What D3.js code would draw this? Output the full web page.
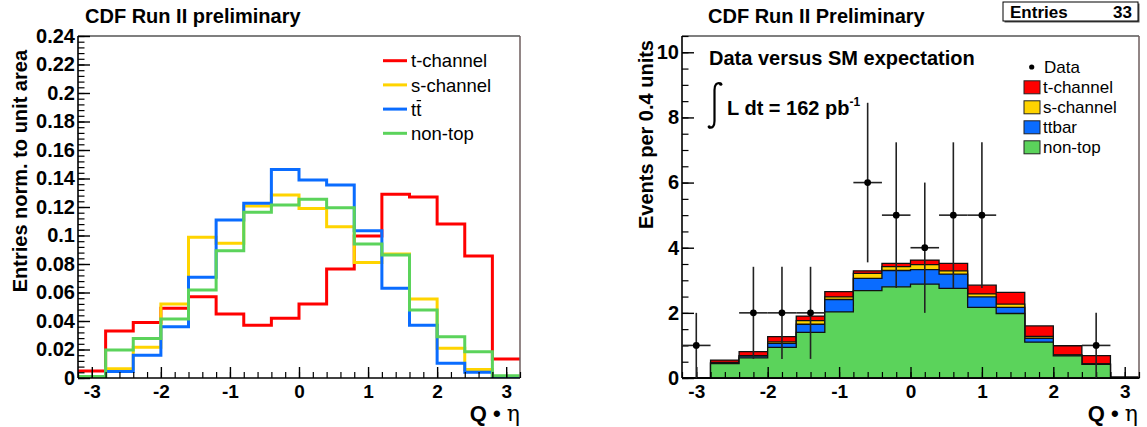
<!DOCTYPE html>
<html>
<head>
<meta charset="utf-8">
<script src="https://cdn.jsdelivr.net/npm/d3@7"></script>
<style>
  body { margin: 0; background: #fff; }
  svg { display: block; }
  text { font-family: "Liberation Sans", Arial, Helvetica, sans-serif; }
</style>
</head>
<body>
<div id="chart"></div>
<script>
// bin edges of Q*eta (width 0.4)
const binEdges = [-3.2, -2.8, -2.4, -2.0, -1.6, -1.2, -0.8, -0.4, 0, 0.4, 0.8, 1.2, 1.6, 2.0, 2.4, 2.8, 3.2]
const binCenters = [-3.0, -2.6, -2.2, -1.8, -1.4, -1.0, -0.6, -0.2, 0.2, 0.6, 1.0, 1.4, 1.8, 2.2, 2.6, 3.0]

// left: shapes normalised to unit area
const tchanNorm  = [0.005, 0.033, 0.039, 0.049, 0.057, 0.045, 0.037, 0.042, 0.052, 0.0765, 0.0996, 0.129, 0.127, 0.108, 0.0856, 0.0133]
const schanNorm  = [0.001, 0.0065, 0.0215, 0.052, 0.0987, 0.0945, 0.1207, 0.1284, 0.119, 0.1062, 0.081, 0.087, 0.0554, 0.0208, 0.006, 0.0005]
const ttbarNorm  = [0.0005, 0.0045, 0.016, 0.036, 0.0707, 0.1109, 0.1226, 0.1464, 0.139, 0.1354, 0.1034, 0.063, 0.037, 0.0103, 0.004, 0.0003]
const nontopNorm = [0.001, 0.0196, 0.0278, 0.0414, 0.0617, 0.0893, 0.1163, 0.1214, 0.1254, 0.1195, 0.094, 0.0863, 0.0477, 0.029, 0.0185, 0.0016]

// right: expected events per bin (stacked) and data
const nontopEv = [0, 0.44, 0.62, 0.94, 1.40, 2.03, 2.68, 2.80, 2.88, 2.75, 2.17, 1.98, 1.10, 0.68, 0.42, 0]
const ttbarEv  = [0, 0.03, 0.05, 0.12, 0.25, 0.38, 0.38, 0.50, 0.45, 0.44, 0.32, 0.19, 0.12, 0.02, 0.01, 0]
const schanEv  = [0, 0.01, 0.02, 0.05, 0.11, 0.08, 0.15, 0.12, 0.15, 0.10, 0.09, 0.10, 0.06, 0.01, 0.005, 0]
const tchanEv  = [0, 0.07, 0.12, 0.16, 0.14, 0.16, 0.08, 0.10, 0.14, 0.23, 0.27, 0.36, 0.32, 0.28, 0.25, 0.03]
const dataEv   = [1, 0, 2, 2, 2, 0, 6, 5, 4, 5, 5, 0, 0, 0, 1, 0]

const xTicks = [-3, -2, -1, 0, 1, 2, 3]
const xTickLabels = ['-3', '-2', '-1', '0', '1', '2', '3']
const yTicksLeft = [0, 0.02, 0.04, 0.06, 0.08, 0.1, 0.12, 0.14, 0.16, 0.18, 0.2, 0.22, 0.24]
const yTickLabelsLeft = ['0', '0.02', '0.04', '0.06', '0.08', '0.1', '0.12', '0.14', '0.16', '0.18', '0.2', '0.22', '0.24']
const yTicksRight = [0, 2, 4, 6, 8, 10]
const yTickLabelsRight = ['0', '2', '4', '6', '8', '10']

const legendLeft = ['t-channel', 's-channel', 'tt', 'non-top']
const legendRight = ['t-channel', 's-channel', 'ttbar', 'non-top']

const cRed = '#ff0000', cYellow = '#ffd400', cBlue = '#0a6cff', cGreen = '#5bd35b'

let svg = d3.select('#chart').append('svg')
  .attr('width', 1147)
  .attr('height', 427)
  .style('background', '#fff')

function drawFrame(x, y, minorX, minorY, yTicks, yLabels) {
  let x0 = x.range()[0], x1 = x.range()[1]
  let y0 = y.range()[0], y1 = y.range()[1]
  // top and right border
  svg.append('line').attr('x1', x0).attr('x2', x1).attr('y1', y1).attr('y2', y1)
    .attr('stroke', '#000').attr('stroke-width', 1.2)
  svg.append('line').attr('x1', x1).attr('x2', x1).attr('y1', y1).attr('y2', y0)
    .attr('stroke', '#6e5e5e').attr('stroke-width', 1.5)

  // minor ticks
  svg.append('g').attr('transform', `translate(0,${y0})`)
    .call(d3.axisBottom(x).tickValues(minorX).tickSize(-6).tickFormat(''))
    .call(g => g.select('.domain').remove())
    .selectAll('line').attr('stroke-width', 1.2)
  svg.append('g').attr('transform', `translate(${x0},0)`)
    .call(d3.axisLeft(y).tickValues(minorY).tickSize(-6.5).tickFormat(''))
    .call(g => g.select('.domain').remove())
    .selectAll('line').attr('stroke-width', 1.2)

  // major ticks + labels
  let gx = svg.append('g').attr('transform', `translate(0,${y0})`)
    .call(d3.axisBottom(x).tickValues(xTicks).tickSize(-11).tickPadding(7)
      .tickFormat((d, i) => xTickLabels[i]))
  gx.select('.domain').remove()
  gx.selectAll('line').attr('stroke-width', 1.4)
  gx.selectAll('text').attr('font-size', 19).attr('font-weight', 'bold')
    .attr('font-family', '"Liberation Sans", Arial, sans-serif').attr('fill', '#000')

  let gy = svg.append('g').attr('transform', `translate(${x0},0)`)
    .call(d3.axisLeft(y).tickValues(yTicks).tickSize(-12).tickPadding(3)
      .tickFormat((d, i) => yLabels[i]))
  gy.select('.domain').remove()
  gy.selectAll('line').attr('stroke-width', 1.4)
  gy.selectAll('text').attr('font-size', 20).attr('font-weight', 'bold')
    .attr('font-family', '"Liberation Sans", Arial, sans-serif').attr('fill', '#000')

  // axis lines
  svg.append('line').attr('x1', x0).attr('x2', x1).attr('y1', y0).attr('y2', y0)
    .attr('stroke', '#000').attr('stroke-width', 1.6)
  svg.append('line').attr('x1', x0).attr('x2', x0).attr('y1', y1).attr('y2', y0)
    .attr('stroke', '#000').attr('stroke-width', 1.6)
}

function xTitle(xRight) {
  let t = svg.append('text').attr('x', xRight).attr('y', 421).attr('text-anchor', 'end')
    .attr('font-size', 22).attr('font-weight', 'bold')
  t.append('tspan').text('Q \u2022 ')
  t.append('tspan').attr('font-weight', 'normal').attr('font-family', '"DejaVu Serif", serif').text('\u03b7')
}

// ---------------- left panel ----------------
let xL = d3.scaleLinear().domain([-3.2, 3.2]).range([78, 520])
let yL = d3.scaleLinear().domain([0, 0.24]).range([378, 36])

svg.append('text').attr('x', 85).attr('y', 23).attr('font-size', 20).attr('font-weight', 'bold')
  .text('CDF Run II preliminary')

let minorXL = d3.range(-3.2, 3.201, 0.2)
let minorYL = d3.range(0, 0.2401, 0.004)

svg.append('clipPath').attr('id', 'clipL').append('rect')
  .attr('x', 78).attr('y', 36).attr('width', 442).attr('height', 342)

let stepL = d3.line()
  .x(d => xL(d[0]))
  .y(d => yL(d[1]))
  .curve(d3.curveStepAfter)

function stepPoints(vals) {
  return binEdges.map((e, i) => [e, vals[Math.min(i, vals.length - 1)]])
}

let seriesLeft = [
  { vals: tchanNorm, color: cRed },
  { vals: schanNorm, color: cYellow },
  { vals: ttbarNorm, color: cBlue },
  { vals: nontopNorm, color: cGreen }
]

seriesLeft.forEach(s => {
  svg.append('path')
    .attr('clip-path', 'url(#clipL)')
    .attr('d', stepL(stepPoints(s.vals)))
    .attr('fill', 'none')
    .attr('stroke', s.color)
    .attr('stroke-width', 3)
})

drawFrame(xL, yL, minorXL, minorYL, yTicksLeft, yTickLabelsLeft)

svg.append('text')
  .attr('transform', 'translate(27,50) rotate(-90)')
  .attr('text-anchor', 'end').attr('font-size', 20).attr('font-weight', 'bold')
  .text('Entries norm. to unit area')

xTitle(520)

// legend left
let legRowsL = [60.7, 84.9, 109.1, 133.3]
legendLeft.forEach((name, i) => {
  svg.append('line').attr('x1', 383).attr('x2', 407).attr('y1', legRowsL[i]).attr('y2', legRowsL[i])
    .attr('stroke', seriesLeft[i].color).attr('stroke-width', 3)
  let t = svg.append('text').attr('x', 411).attr('y', legRowsL[i] + 6.6)
    .attr('font-size', 18.5).text(name)
  if (name === 'tt') {
    let n = t.node()
    let p = n.getStartPositionOfChar(1).x
    let w = n.getSubStringLength(1, 1)
    svg.append('line').attr('x1', p + 0.5).attr('x2', p + w - 0.2)
      .attr('y1', legRowsL[i] - 8.5).attr('y2', legRowsL[i] - 8.5)
      .attr('stroke', '#000').attr('stroke-width', 1.2)
  }
})

// ---------------- right panel ----------------
let xR = d3.scaleLinear().domain([-3.2, 3.2]).range([682, 1139])
let yR = d3.scaleLinear().domain([0, 10.5]).range([378, 36])

svg.append('text').attr('x', 708).attr('y', 23).attr('font-size', 20).attr('font-weight', 'bold')
  .text('CDF Run II Preliminary')

// stat box
svg.append('rect').attr('x', 1004.5).attr('y', 3.5).attr('width', 135).attr('height', 19)
  .attr('fill', '#555')
svg.append('rect').attr('x', 1003).attr('y', 2).attr('width', 135).attr('height', 19)
  .attr('fill', '#fff').attr('stroke', '#000').attr('stroke-width', 1)
svg.append('text').attr('x', 1010).attr('y', 17.5).attr('font-size', 17).attr('font-weight', 'bold')
  .text('Entries')
svg.append('text').attr('x', 1132).attr('y', 17.5).attr('text-anchor', 'end')
  .attr('font-size', 17).attr('font-weight', 'bold').text('33')

let rows = binCenters.map((c, i) => ({
  lo: binEdges[i], nontop: nontopEv[i], ttbar: ttbarEv[i], schan: schanEv[i], tchan: tchanEv[i]
}))
let stacked = d3.stack().keys(['nontop', 'ttbar', 'schan', 'tchan'])(rows)
let stackColors = [cGreen, cBlue, cYellow, cRed]

let areaR = d3.area()
  .x(d => xR(d[0]))
  .y0(yR(0))
  .y1(d => yR(d[1]))
  .curve(d3.curveStepAfter)

// draw totals first so every layer gets its own black outline
for (let k = stacked.length - 1; k >= 0; k--) {
  let pts = binEdges.map((e, i) => [e, stacked[k][Math.min(i, 15)][1]])
  svg.append('path')
    .attr('d', areaR(pts))
    .attr('fill', stackColors[k])
    .attr('stroke', '#111')
    .attr('stroke-width', 1.3)
}

let minorXR = d3.range(-3.2, 3.201, 0.2)
let minorYR = d3.range(0, 10.51, 0.5)
drawFrame(xR, yR, minorXR, minorYR, yTicksRight, yTickLabelsRight)

// data points with poisson errors
let pts = binCenters.map((c, i) => ({ x: c, n: dataEv[i] })).filter(d => d.n > 0)
let dg = svg.append('g')
dg.selectAll('.ev').data(pts).enter().append('line')
  .attr('x1', d => xR(d.x)).attr('x2', d => xR(d.x))
  .attr('y1', d => yR(d.n - Math.sqrt(d.n))).attr('y2', d => yR(d.n + Math.sqrt(d.n)))
  .attr('stroke', '#222').attr('stroke-width', 1.6)
dg.selectAll('.eh').data(pts).enter().append('line')
  .attr('x1', d => xR(d.x - 0.2)).attr('x2', d => xR(d.x + 0.2))
  .attr('y1', d => yR(d.n)).attr('y2', d => yR(d.n))
  .attr('stroke', '#222').attr('stroke-width', 1.6)
dg.selectAll('circle').data(pts).enter().append('circle')
  .attr('cx', d => xR(d.x)).attr('cy', d => yR(d.n)).attr('r', 3.4)
  .attr('fill', '#000')

svg.append('text')
  .attr('transform', 'translate(653,40) rotate(-90)')
  .attr('text-anchor', 'end').attr('font-size', 20).attr('font-weight', 'bold')
  .text('Events per 0.4 units')

xTitle(1138)

svg.append('text').attr('x', 709).attr('y', 65).attr('font-size', 20).attr('font-weight', 'bold')
  .text('Data versus SM expectation')

// integral sign
svg.append('path')
  .attr('d', 'M721,83.5 C716.5,82 714.5,85 714.5,90 L714.5,121 C714.5,126 712.5,128.5 709,127.5')
  .attr('fill', 'none').attr('stroke', '#000').attr('stroke-width', 2.2)
svg.append('circle').attr('cx', 720.8).attr('cy', 84.2).attr('r', 1.6).attr('fill', '#000')
svg.append('circle').attr('cx', 709.2).attr('cy', 126.8).attr('r', 1.6).attr('fill', '#000')
let lum = svg.append('text').attr('x', 727).attr('y', 115).attr('font-size', 20).attr('font-weight', 'bold')
lum.append('tspan').text('L dt = 162 pb')
lum.append('tspan').attr('dy', -9).attr('font-size', 12).text('-1')

// legend right
svg.append('circle').attr('cx', 1031.7).attr('cy', 67).attr('r', 2.6).attr('fill', '#000')
svg.append('text').attr('x', 1044).attr('y', 73).attr('font-size', 17).text('Data')
let legRowsR = [87.3, 107.3, 127.3, 147.3]
legendRight.forEach((name, i) => {
  svg.append('rect').attr('x', 1024).attr('y', legRowsR[i] - 6.5).attr('width', 16).attr('height', 13)
    .attr('fill', [cRed, cYellow, cBlue, cGreen][i]).attr('stroke', '#222').attr('stroke-width', 1)
  svg.append('text').attr('x', 1043).attr('y', legRowsR[i] + 6).attr('font-size', 17).text(name)
})
</script>
</body>
</html>
